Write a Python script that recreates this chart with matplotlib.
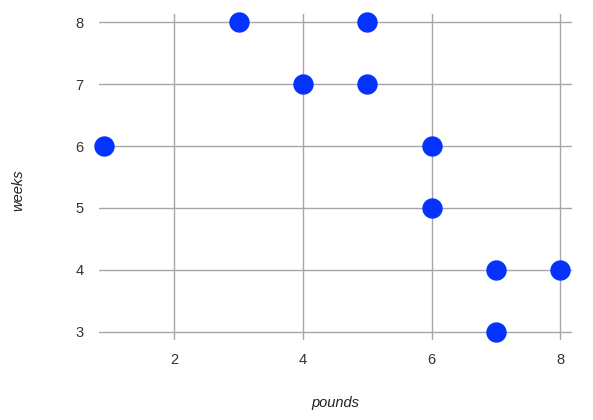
import matplotlib
matplotlib.use("Agg")
import matplotlib.pyplot as plt

pounds = [3, 5, 4, 5, 0.9, 6, 6, 7, 8, 7]
weeks = [8, 8, 7, 7, 6, 6, 5, 4, 4, 3]
x_ticks = [2, 4, 6, 8]
y_ticks = [3, 4, 5, 6, 7, 8]

plt.rcParams['font.family'] = ['Liberation Sans', 'DejaVu Sans']

fig = plt.figure(figsize=(5.93, 4.20), dpi=100)
ax = fig.add_axes([99/593, 80/420, 473/593, 326/420])

ax.scatter(pounds, weeks, s=215, color='#0433ff', zorder=3, linewidths=0,
           clip_on=False)

ax.set_xlim(0.83, 8.18)
ax.set_ylim(2.87, 8.13)
ax.set_xticks(x_ticks)
ax.set_yticks(y_ticks)
ax.grid(True, color='#a6a6a6', linewidth=1)
ax.set_axisbelow(True)
for s in ax.spines.values():
    s.set_visible(False)
ax.tick_params(length=0, labelsize=10.5, labelcolor='#333333')
ax.tick_params(axis='x', pad=9)
ax.tick_params(axis='y', pad=11)

ax.set_xlabel('pounds', fontsize=10.5, style='italic', color='#222222')
ax.set_ylabel('weeks', fontsize=10.5, style='italic', color='#222222')
# label centres: pounds at y=403px, weeks at x=18px
ax.xaxis.set_label_coords((335 - 99) / 473, (340 - 403) / 326)
ax.yaxis.set_label_coords((18 - 99) / 473, (340 - 190) / 326)
ax.xaxis.label.set_va('center')
ax.yaxis.label.set_va('center')

fig.savefig('out.png', dpi=100)
